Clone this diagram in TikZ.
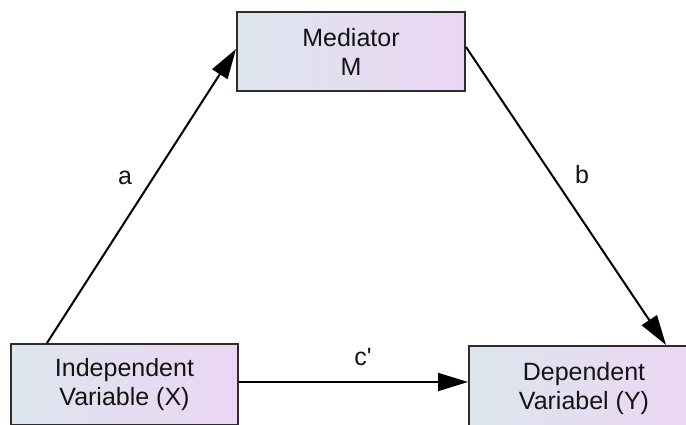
\documentclass[tikz,border=0pt]{standalone}
\usepackage{fontspec}
\setmainfont{Liberation Sans}
\usetikzlibrary{arrows.meta,calc}
\definecolor{boxleft}{RGB}{221,230,238}
\definecolor{boxright}{RGB}{236,213,243}
\definecolor{boxline}{RGB}{45,45,45}
\definecolor{ink}{RGB}{20,20,20}
\tikzset{
  var/.style={draw=boxline, line width=2pt, left color=boxleft, right color=boxright,
    align=center, text=ink, font=\fontsize{25}{29}\selectfont, inner sep=0pt},
  path/.style={draw=black, line width=2pt, -{Triangle[length=30pt,width=18pt]}},
  lbl/.style={text=ink, font=\fontsize{25}{29}\selectfont, inner sep=0pt}
}
\begin{document}
\begin{tikzpicture}[x=1pt,y=-1pt]
  \useasboundingbox (0,0) rectangle (686,424);
  % variables
  \node[var, minimum width=228pt, minimum height=79pt] (M) at (351,51.5) {Mediator\\M};
  \node[var, minimum width=227pt, minimum height=81pt] (X) at (124.5,384.5) {Independent\\Variable (X)};
  \node[var, minimum width=230pt, minimum height=85pt] (Y) at (584,388.5) {Dependent\\Variabel (Y)};
  % paths
  \draw[path] ([xshift=37pt]X.north west) -- ([yshift=2.5pt]M.west);
  \draw[path] ([yshift=4.5pt]M.east) -- ([xshift=198pt]Y.north west);
  \draw[path] ([yshift=2.5pt]X.east) -- ([yshift=2.5pt]X.east -| Y.west);
  % path labels
  \node[lbl] (la) at (125,178) {a};
  \node[lbl] (lb) at (582,175) {b};
  \node[lbl] (lc) at (363,357) {c\textquotesingle};
\end{tikzpicture}
\end{document}
